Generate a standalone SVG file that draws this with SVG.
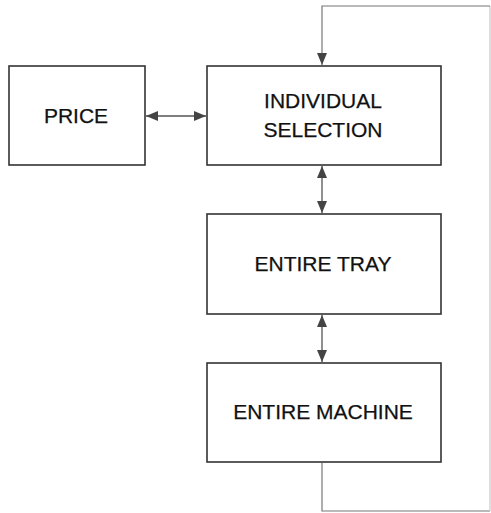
<svg xmlns="http://www.w3.org/2000/svg" width="491" height="513" viewBox="0 0 491 513">
<style>
.box{fill:#fff;stroke:#333;stroke-width:1.6}
.lbl{font-family:"Liberation Sans",Arial,sans-serif;font-size:21px;fill:#111;text-anchor:middle;stroke:#111;stroke-width:0.25}
.con{fill:none;stroke:#555;stroke-width:1.3}
.loop{fill:none;stroke:#777;stroke-width:1.2}
.edge{fill:none;stroke:#c8c8c8;stroke-width:1.2}
</style>
<defs>
<marker id="ah" viewBox="0 0 12 10" refX="12" refY="5" markerWidth="12" markerHeight="10" markerUnits="userSpaceOnUse" orient="auto-start-reverse">
<path d="M0,0 L12,5 L0,10 Z" fill="#444"/>
</marker>
</defs>
<rect width="491" height="513" fill="#fff"/>
<g id="connectors">
<line class="con" x1="146" y1="116" x2="206" y2="116" marker-start="url(#ah)" marker-end="url(#ah)"/>
<line class="con" x1="322" y1="166" x2="322" y2="213" marker-start="url(#ah)" marker-end="url(#ah)"/>
<line class="con" x1="322" y1="315" x2="322" y2="362" marker-start="url(#ah)" marker-end="url(#ah)"/>
<polyline class="loop" points="322,463 322,511 490,511"/>
<line class="edge" x1="490" y1="511" x2="490" y2="6"/>
<polyline class="loop" points="490,6 322,6 322,65" marker-end="url(#ah)"/>
</g>
<g id="price">
<rect class="box" x="9" y="66" width="136" height="99"/>
<text class="lbl" x="76" y="123">PRICE</text>
</g>
<g id="individual-selection">
<rect class="box" x="207" y="66" width="234" height="99"/>
<text class="lbl" x="323" y="108">INDIVIDUAL</text>
<text class="lbl" x="323" y="137">SELECTION</text>
</g>
<g id="entire-tray">
<rect class="box" x="207" y="214" width="234" height="100"/>
<text class="lbl" x="323" y="271">ENTIRE TRAY</text>
</g>
<g id="entire-machine">
<rect class="box" x="207" y="363" width="234" height="99"/>
<text class="lbl" x="323" y="419">ENTIRE MACHINE</text>
</g>
</svg>
